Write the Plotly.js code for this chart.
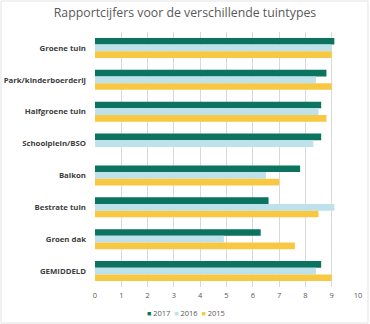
<!DOCTYPE html>
<html><head><meta charset="utf-8">
<script src="https://cdn.plot.ly/plotly-3.0.1.min.js"></script>
<style>html,body{margin:0;padding:0;background:#fff}#c{width:370px;height:324px}</style>
</head><body><div id="c"></div>
<script>
const categories = ["Groene tuin","Park/kinderboerderij","Halfgroene tuin","Schoolplein/BSO","Balkon","Bestrate tuin","Groen dak","GEMIDDELD"];
const v2017 = [9.1, 8.8, 8.6, 8.6, 7.8, 6.6, 6.3, 8.6];
const v2016 = [9.0, 8.4, 8.5, 8.3, 6.5, 9.1, 4.9, 8.4];
const v2015 = [9.0, 9.0, 8.8, null, 7.0, 8.5, 7.6, 9.0];
const seriesNames = ["2017","2016","2015"];
const colors = ["#0b7360","#bde2ec","#f8c842"];
const xTicks = [0,1,2,3,4,5,6,7,8,9,10];

const vals = [v2017, v2016, v2015];
const traces = vals.map((v,i)=>({
  type:'bar', orientation:'h', name:seriesNames[i], x:v, y:categories,
  marker:{color:colors[i]}, hoverinfo:'x', showlegend:false
}));

const legendText = seriesNames.map((n,i)=>
  '<span style="color:'+colors[i]+';font-size:7px">■</span> '+n).join('  ');

const layout = {
  width:370, height:324,
  margin:{l:95, r:12, t:32, b:37},
  paper_bgcolor:'#fff', plot_bgcolor:'#fff',
  font:{family:'"Open Sans", "Noto Sans", sans-serif', color:'#595959'},
  title:{text:'Rapportcijfers voor de verschillende tuintypes', x:0.5, xanchor:'center', y:0.96, yanchor:'middle',
    font:{size:12.3, color:'#595959', family:'"Open Sans", sans-serif'}},
  barmode:'group', bargap:0.37, bargroupgap:0,
  xaxis:{range:[0,10], tickvals:xTicks, showgrid:true, gridcolor:'#d9d9d9', gridwidth:1,
    zeroline:false, showline:false, tickfont:{size:7.5, color:'#595959'}, ticks:'', ticklabelstandoff:2, fixedrange:true},
  yaxis:{autorange:'reversed', showgrid:false, zeroline:false, showline:false, ticks:'', ticklen:0,
    ticklabelstandoff:8,
    tickfont:{size:7.8, color:'#404040', family:'"Open Sans", sans-serif', weight:'bold'}, automargin:false},
  showlegend:false,
  annotations:[{xref:'paper', yref:'paper', x:0.346, y:-0.102, xanchor:'center', yanchor:'middle',
    showarrow:false, text:legendText, font:{size:7.5, color:'#595959'}}],
  shapes:[{type:'rect', xref:'paper', yref:'paper', x0:-0.3574, x1:1.038, y0:-0.1412, y1:1.1216,
    line:{color:'#e3e3e3', width:1}}]
};
Plotly.newPlot('c', traces, layout, {displayModeBar:false, staticPlot:true});
</script></body></html>
